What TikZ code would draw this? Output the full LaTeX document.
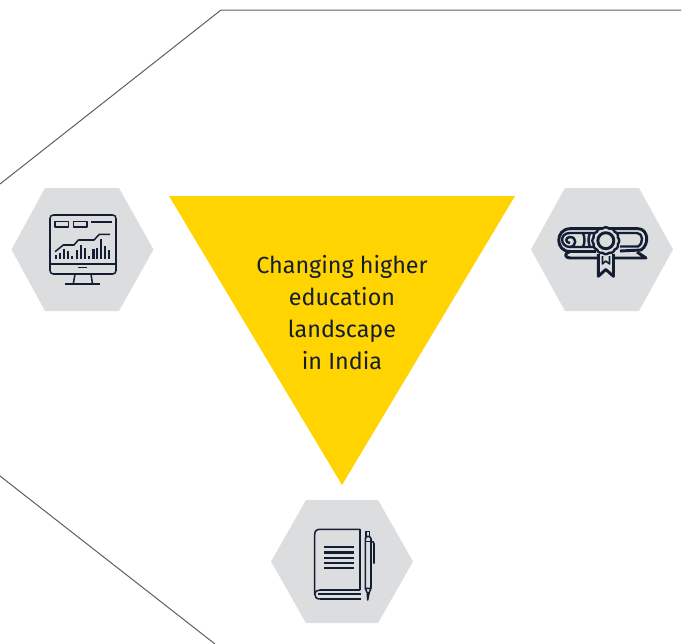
\documentclass[tikz,border=0pt]{standalone}
\usepackage{fontspec}
\setmainfont{Fira Sans}
\definecolor{eyyellow}{HTML}{FFD400}
\definecolor{eygrey}{HTML}{DCDDDF}
\definecolor{eynavy}{HTML}{141E33}
\definecolor{eyline}{HTML}{5A5F66}
\tikzset{
  hexfill/.style={fill=eygrey,draw=none},
  frameline/.style={draw=eyline,line width=0.75pt},
  iconline/.style={draw=eynavy,line width=1.15pt,line join=round},
  iconthick/.style={draw=eynavy,line width=1.8pt,line join=round},
  scrollline/.style={draw=eynavy,line width=2.2pt,line join=round},
}

\begin{document}
\begin{tikzpicture}[x=0.75pt,y=0.75pt,yscale=-1,xscale=1]
\useasboundingbox (0,0) rectangle (687,644);

%Straight Lines
\draw [frameline]   (0,184) -- (221,10) -- (681,10) ;
\draw [frameline]   (0,476) -- (215,644) ;

%Shape: Triangle
\fill [eyyellow]   (169,196) -- (515,196) -- (342,485) -- cycle ;

%Shape: Hexagon
\path [hexfill]   (11.5,249.5) -- (45,188) -- (119,188) -- (153.5,249.5) -- (119,311) -- (45,311) -- cycle ;
%Shape: Hexagon
\path [hexfill]   (531,249.5) -- (565,188) -- (639,188) -- (673,249.5) -- (639,311) -- (565,311) -- cycle ;
%Shape: Hexagon
\path [hexfill]   (271,561.5) -- (306,500) -- (378,500) -- (413,561.5) -- (378,623) -- (306,623) -- cycle ;

%Monitor
\draw [iconline,rounded corners=2.5pt]   (50,215) rectangle (116,274) ;
\draw [iconline]   (50,264) -- (116,264) ;
\draw [iconline]   (78,267.7) -- (87,267.7) ;
\draw [iconline]   (75,274) -- (73.3,284) ;
\draw [iconline]   (91,274) -- (92.5,284) ;
\draw [iconline]   (65,284) -- (100,284) ;
\draw [iconline]   (55,221.7) rectangle (68.5,227) ;
\draw [iconline]   (73.5,221.7) rectangle (87,227) ;
\draw [iconline]   (90.7,222) -- (112.3,222) ;
\draw [iconline]   (55,251.7) -- (63.3,245) -- (74,245) -- (78.3,240) -- (94,240) -- (99.3,234.3) -- (110,234.3) ;
\foreach \barx/\bary in {56/255,60/252.7,64/249,68/250.7,72/256,76.7/250,80.7/245,85/248.3,89/256,93.3/249,96.7/248.3,100.7/239.3,104.7/245.7,108.7/250}
  \draw [iconthick]   (\barx,259) -- (\barx,\bary) ;

%Diploma
\draw [scrollline]   (570,228.7) -- (638,228.7) .. controls (648,228.7) and (650,244) .. (641,250) -- (620,251) ;
\draw [iconthick]   (570,233) -- (637,233) .. controls (643,233) and (644,243) .. (638,246.5) -- (620,246.5) ;
\draw [scrollline]   (570,228.7) .. controls (555,229) and (555,251.5) .. (570,251.5) -- (596,251.5) ;
\draw [iconthick]   (570,233) .. controls (559,233) and (560,247) .. (570,247) -- (596,247) ;
\draw [iconthick]   (570,247) .. controls (577,246) and (577,237) .. (570,237) .. controls (565,237) and (565,243) .. (570,243) ;
\draw [scrollline]   (570,251.5) .. controls (564,253) and (564,258) .. (571,258) -- (598,258) ;
\draw [scrollline]   (613,258) -- (646,258) -- (637,252) ;
\draw [iconthick]   (583,233) .. controls (585,238) and (585,242) .. (583,247) ;
\draw [iconthick]   (590,233) .. controls (588,238) and (588,242) .. (590,247) ;
\draw [scrollline,fill=eygrey]   (598.3,254) -- (598.3,276.3) -- (605.8,269.5) -- (613.5,276.3) -- (613.5,254) ;
\draw [iconline]   (602.5,256) -- (602.5,264) -- (605.8,261) -- (609.5,264) -- (609.5,256) ;
\draw [iconthick,fill=eygrey]   plot [domain=0:360,samples=145] ({605.8+(12.5+0.9*abs(cos(6*\x)))*cos(\x)},{240.7+(12.5+0.9*abs(cos(6*\x)))*sin(\x)}) -- cycle ;
\draw [scrollline]   (605.8,240.7) circle [radius=8] ;

%Book
\draw [iconline]   (360,590) -- (360,529.3) -- (320,529.3) .. controls (316.5,529.3) and (314.7,531) .. (314.7,534.5) -- (314.7,594) .. controls (314.7,597) and (316.5,599) .. (319.7,599) ;
\draw [iconline]   (314.7,594) .. controls (314.7,591.5) and (317,590) .. (320,590) -- (360,590) ;
\draw [iconthick]   (318,594) -- (361,594) ;
\draw [iconline]   (319.7,599) -- (361,599) ;
\foreach \liney in {546.7,552.3,557.7,563,568}
  \draw [iconthick]   (324,\liney) -- (354,\liney) ;

%Pen
\draw [iconline]   (366,536.5) -- (366,531.7) -- (369.3,531.7) -- (369.3,536.5) ;
\draw [iconline]   (365.3,588.3) -- (365.3,538.5) -- (367,536.5) -- (369.5,536.5) -- (371,538.5) -- (371,588.3) ;
\draw [iconline]   (365.3,541.7) -- (371,541.7) ;
\draw [iconline]   (371,541.7) -- (373,541.7) -- (374,543.5) -- (374,563.5) ;
\draw [iconline]   (365.3,588.3) -- (371,588.3) -- (369,593) -- (367.7,600) -- (367.3,593) -- cycle ;
\draw [iconline]   (366.5,593) -- (369.5,593) ;

% Text Node
\node (title) at (342,313) [inner sep=0.75pt,font=\fontsize{17.5pt}{24pt}\selectfont,align=center,text=eynavy]  {Changing higher\\education\\landscape\\in India};

\end{tikzpicture}
\end{document}
